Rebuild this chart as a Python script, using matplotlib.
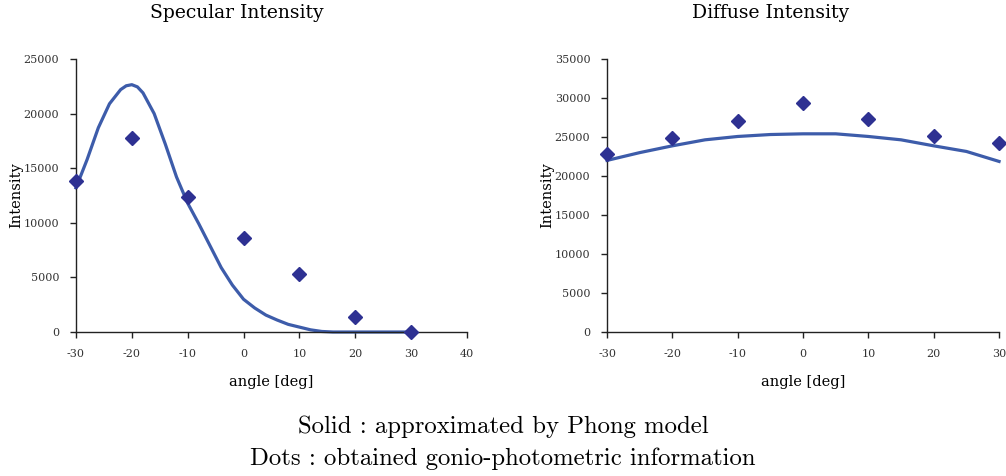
import matplotlib
matplotlib.use("Agg")
import matplotlib.pyplot as plt

# measured dots
angles = [-30, -20, -10, 0, 10, 20, 30]
spec_dots = [13800, 17800, 12400, 8600, 5300, 1400, 0]
diff_dots = [22850, 24850, 27100, 29350, 27250, 25150, 24200]

# Phong model curves
spec_x = [-30, -28, -26, -24, -22, -21, -20, -19, -18, -16, -14, -12, -10, -8, -6, -4, -2,
          0, 2, 4, 6, 8, 10, 12, 14, 16, 20, 25, 30]
spec_y = [13200, 15800, 18700, 20900, 22200, 22550, 22650, 22450, 21900, 20000, 17200,
          14200, 11800, 9900, 7900, 5900, 4300, 3000, 2200, 1550, 1100, 700, 450, 200,
          50, 0, 0, 0, 0]
diff_x = [-30, -25, -20, -15, -10, -5, 0, 5, 10, 15, 20, 25, 30]
diff_y = [22000, 23000, 23870, 24640, 25070, 25320, 25410, 25410, 25070, 24640,
          23870, 23150, 21870]

dot_color = "#2E3192"
line_color = "#3D5CAA"
serif = "DejaVu Serif"

fig = plt.figure(figsize=(10.06, 4.76), dpi=100)
axL = fig.add_axes([0.0755, 0.3025, 0.3887, 0.5735])
axR = fig.add_axes([0.6034, 0.3025, 0.3897, 0.5735])


def style(ax, xlim, ylim, xstep, ystep):
    ax.set_xlim(*xlim)
    ax.set_ylim(*ylim)
    ax.set_xticks(range(xlim[0], xlim[1] + 1, xstep))
    ax.set_yticks(range(ylim[0], ylim[1] + 1, ystep))
    ax.set_xticklabels([str(v) for v in range(xlim[0], xlim[1] + 1, xstep)])
    for s in ["top", "right"]:
        ax.spines[s].set_visible(False)
    for s in ["left", "bottom"]:
        ax.spines[s].set_linewidth(1.0)
        ax.spines[s].set_color("#222222")
    ax.tick_params(direction="out", length=4, width=1, color="#222222",
                   labelsize=8, pad=8)
    for lab in ax.get_xticklabels() + ax.get_yticklabels():
        lab.set_family(serif)
        lab.set_color("#333333")
    ax.set_xlabel("angle [deg]", family=serif, fontsize=10.5, labelpad=12)
    ax.set_ylabel("Intensity", family=serif, fontsize=10.5, labelpad=0)


axL.plot(spec_x, spec_y, color=line_color, lw=2.3, clip_on=False, zorder=2)
axL.plot(angles, spec_dots, "D", color=dot_color, ms=7.5, clip_on=False, zorder=3)
style(axL, (-30, 40), (0, 25000), 10, 5000)

axR.plot(diff_x, diff_y, color=line_color, lw=2.3, clip_on=False, zorder=2)
axR.plot(angles, diff_dots, "D", color=dot_color, ms=7.5, clip_on=False, zorder=3)
style(axR, (-30, 30), (0, 35000), 10, 5000)

fig.text(0.2356, 0.972, "Specular Intensity", family=serif, fontsize=13.5,
         ha="center", va="center")
fig.text(0.7655, 0.972, "Diffuse Intensity", family=serif, fontsize=13.5,
         ha="center", va="center")

fig.text(0.5, 0.103, "Solid : approximated by Phong model", family="cmr10",
         fontsize=17.8, ha="center", va="center")
fig.text(0.5, 0.037, "Dots : obtained gonio-photometric information", family="cmr10",
         fontsize=17.8, ha="center", va="center")

fig.savefig("out.png", dpi=100)
